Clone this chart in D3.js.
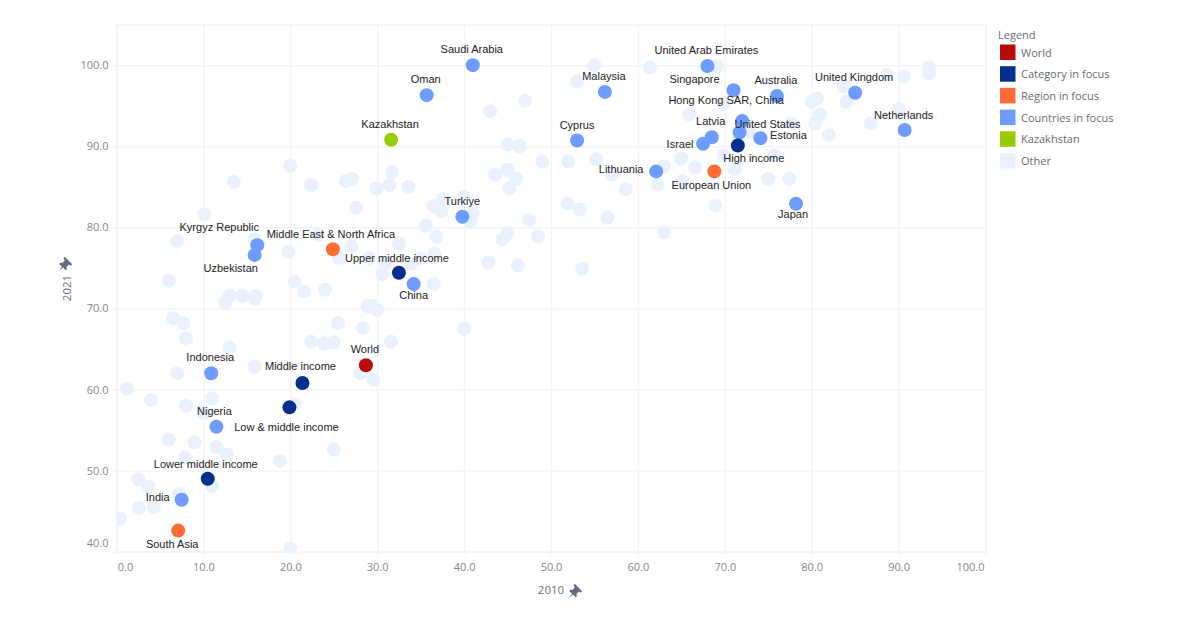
<!DOCTYPE html>
<html>
<head>
<meta charset="utf-8">
<script src="https://cdn.jsdelivr.net/npm/d3@7/dist/d3.min.js"></script>
<style>
html,body{margin:0;padding:0;background:#fff;}
svg{display:block;}
</style>
</head>
<body>
<div id="chart"></div>
<script>
const xTicks = [0,10,20,30,40,50,60,70,80,90,100];
const yTicks = [40,50,60,70,80,90,100];
const xTitle = "2010";
const yTitle = "2021";
const legendTitle = "Legend";
const groupNames = ["World","Category in focus","Region in focus","Countries in focus","Kazakhstan","Other"];
const groupColors = ["#B80C09","#002F8F","#FF6B35","#6E9BFF","#97CC04","#EAF1FE"];

const otherX = [20.0,13.5,22.4,26.4,27.1,29.9,31.4,31.7,33.6,36.5,37.6,37.4,27.6,35.6,36.8,32.5,10.1,7.0,15.9,19.8,23.2,27.0,25.6,29.0,31.0,34.0,35.0,36.6,30.6,36.5,6.0,20.5,21.6,24.0,13.0,14.5,16.0,12.5,15.9,28.9,29.4,30.0,6.5,7.7,8.0,25.5,28.3,31.6,22.4,23.9,25.0,13.0,15.9,7.0,28.1,29.6,1.2,4.0,8.0,11.0,20.5,10.0,6.0,9.0,11.5,25.0,12.7,7.9,18.8,11.0,2.5,3.7,7.2,2.6,4.3,0.4,20.0,2.9,55.0,53.0,61.4,69.1,47.0,43.0,45.0,46.4,49.0,52.0,55.2,45.0,43.6,46.0,45.2,57.0,58.6,62.3,63.0,65.0,66.6,65.1,69.9,71.1,65.9,69.9,51.9,53.3,47.5,56.5,68.9,63.0,45.0,44.4,48.5,39.9,41.0,40.7,42.8,46.2,53.6,40.0,88.7,90.6,93.5,93.5,83.7,80.0,80.6,84.0,81.0,80.4,82.0,86.8,90.0,75.7,75.0,77.4,72.9,77.6];
const otherY = [87.6,85.6,85.2,85.7,86.0,84.8,85.2,86.8,85.0,82.6,83.5,82.0,82.4,80.2,78.9,78.0,81.6,78.3,78.5,77.0,79.1,77.7,76.2,76.2,75.6,75.5,76.2,76.7,74.2,73.0,73.4,73.3,72.1,72.3,71.6,71.6,71.5,70.7,71.2,70.3,70.3,69.8,68.8,68.2,66.3,68.2,67.6,65.9,65.9,65.7,65.8,65.2,62.8,62.0,62.0,61.2,60.1,58.7,58.0,58.9,58.2,57.1,53.8,53.5,52.9,52.6,52.0,51.6,51.2,48.1,48.9,48.0,47.1,45.4,45.5,44.1,40.4,38.9,100.0,98.0,99.7,99.9,95.6,94.3,90.2,90.0,88.1,88.1,88.4,87.1,86.5,86.0,84.8,86.5,84.7,85.3,87.5,88.5,87.4,85.7,88.9,87.2,93.9,95.2,82.9,82.2,80.9,81.2,82.7,79.4,79.3,78.5,78.9,83.8,81.7,80.7,75.7,75.3,74.9,67.5,98.8,98.6,99.7,99.0,97.4,95.5,95.9,95.5,93.9,92.8,91.4,92.8,94.6,88.9,86.0,86.0,91.8,92.8];

const focusNames = ["Saudi Arabia","Oman","Kyrgyz Republic","Uzbekistan","China","Turkiye","Cyprus","Malaysia","United Arab Emirates","Singapore","Latvia","Israel","Lithuania","Hong Kong SAR, China","United States","Estonia","Australia","United Kingdom","Netherlands","Japan","Indonesia","Nigeria","India"];
const focusX = [41.0,35.7,16.2,15.9,34.2,39.8,53.0,56.2,68.0,71.0,68.5,67.5,62.1,72.0,71.7,74.1,76.0,85.0,90.7,78.2,10.9,11.5,7.5];
const focusY = [100.0,96.3,77.8,76.6,73.0,81.3,90.7,96.7,99.9,96.9,91.1,90.3,86.9,93.1,91.7,91.0,96.2,96.6,92.0,82.9,62.0,55.4,46.4];
const focusLabelDx = [-1,-1,-38,-24,0,0,0,-1,-1,-39,-1,-23,-35,-16,28,28,-1,-1,-1,-3,-1,-2,-24];
const focusLabelDy = [-16,-16,-18,13,11,-16,-16,-16,-16,-11,-16,0,-2,-21,-8,-3,-16,-16,-15,10,-16,-16,-3];

const categoryNames = ["High income","Upper middle income","Middle income","Low & middle income","Lower middle income"];
const categoryX = [71.5,32.5,21.4,19.9,10.5];
const categoryY = [90.1,74.4,60.8,57.8,49.0];
const categoryLabelDx = [16,-2,-2,-3,-2];
const categoryLabelDy = [13,-15,-17,20,-15];

const regionNames = ["Middle East & North Africa","European Union","South Asia"];
const regionX = [24.9,68.8,7.1];
const regionY = [77.3,86.9,42.6];
const regionLabelDx = [-2,-3,-6];
const regionLabelDy = [-15,14,13];

const worldNames = ["World"];
const worldX = [28.7];
const worldY = [63.0];
const worldLabelDx = [-1];
const worldLabelDy = [-16];

const kazNames = ["Kazakhstan"];
const kazX = [31.6];
const kazY = [90.8];
const kazLabelDx = [-1];
const kazLabelDy = [-16];

const W = 1200, H = 630;
const svg = d3.select("#chart").append("svg").attr("width",W).attr("height",H);
const x = d3.scaleLinear().domain([0,100]).range([116.5,985.5]);
const y = d3.scaleLinear().domain([40,105]).range([551.7,24.6]);
const tickFont = "'Open Sans', sans-serif";
const labelFont = "'Liberation Sans', Arial, sans-serif";

svg.append("defs").append("clipPath").attr("id","plot").append("rect")
  .attr("x",x(0)).attr("y",y(105)).attr("width",x(100)-x(0)).attr("height",y(40)-y(105));

// grid
const gridColor = "#F3F4F6";
const tickColor = "#878787";
const gx = svg.append("g").attr("transform",`translate(0,${y(40)})`)
  .call(d3.axisBottom(x).tickValues(xTicks).tickSize(-(y(40)-y(105))).tickFormat(d=>d.toFixed(1)).tickPadding(12));
gx.select(".domain").attr("stroke",gridColor).attr("stroke-width",1.5);
gx.selectAll(".tick line").attr("stroke",gridColor).attr("stroke-width",1.5);
gx.selectAll(".tick text").attr("font-family",tickFont).attr("font-size",11).attr("fill",tickColor)
  .attr("dx",d=>d===0?8.5:(d===100?-15.5:0));
gx.selectAll(".tick").append("line").attr("y1",0).attr("y2",4).attr("stroke",gridColor).attr("stroke-width",1.5);

const gy = svg.append("g").attr("transform",`translate(${x(0)},0)`)
  .call(d3.axisLeft(y).tickValues(yTicks).tickSize(-(x(100)-x(0))).tickFormat(d=>d.toFixed(1)).tickPadding(8));
gy.select(".domain").attr("stroke",gridColor).attr("stroke-width",1.5);
gy.selectAll(".tick line").attr("stroke",gridColor).attr("stroke-width",1.5);
gy.selectAll(".tick text").attr("font-family",tickFont).attr("font-size",11).attr("fill",tickColor)
  .attr("dy",d=>d===40?"-0.45em":"0.32em");
gy.selectAll(".tick").append("line").attr("x1",0).attr("x2",-4).attr("stroke",gridColor).attr("stroke-width",1.5);

// points
const plot = svg.append("g").attr("clip-path","url(#plot)");
plot.selectAll("circle.other").data(d3.range(otherX.length)).join("circle")
  .attr("class","other")
  .attr("cx",i=>x(otherX[i])).attr("cy",i=>y(otherY[i])).attr("r",7)
  .attr("fill",groupColors[5]);

const groups = [
  {names:focusNames,xs:focusX,ys:focusY,dx:focusLabelDx,dy:focusLabelDy,color:groupColors[3]},
  {names:categoryNames,xs:categoryX,ys:categoryY,dx:categoryLabelDx,dy:categoryLabelDy,color:groupColors[1]},
  {names:regionNames,xs:regionX,ys:regionY,dx:regionLabelDx,dy:regionLabelDy,color:groupColors[2]},
  {names:kazNames,xs:kazX,ys:kazY,dx:kazLabelDx,dy:kazLabelDy,color:groupColors[4]},
  {names:worldNames,xs:worldX,ys:worldY,dx:worldLabelDx,dy:worldLabelDy,color:groupColors[0]}
];
groups.forEach(g=>{
  plot.selectAll(null).data(g.names).join("circle")
    .attr("cx",(d,i)=>x(g.xs[i])).attr("cy",(d,i)=>y(g.ys[i])).attr("r",7)
    .attr("fill",g.color);
});
groups.forEach(g=>{
  svg.selectAll(null).data(g.names).join("text")
    .attr("x",(d,i)=>x(g.xs[i])+g.dx[i]).attr("y",(d,i)=>y(g.ys[i])+g.dy[i]+4)
    .attr("text-anchor","middle")
    .attr("font-family",labelFont).attr("font-size",11).attr("fill","#222")
    .text(d=>d);
});

// axis titles and pins
const pinPath = "M-1.5,-7 L7,1.5 L5.5,3 L3.6,1.6 L0.6,4.4 L0.9,7 L-0.4,8.2 L-3.2,5 L-7.5,8.5 L-4.4,4.2 L-7.8,1 L-6.5,-0.2 L-4,0 L-1.3,-3.2 L-2.9,-5.5 Z";
svg.append("text").attr("x",551).attr("y",594).attr("text-anchor","middle")
  .attr("font-family",tickFont).attr("font-size",11.5).attr("fill","#6B7280").text(xTitle);
svg.append("path").attr("d",pinPath).attr("transform","translate(576,590) scale(0.88)").attr("fill","#5F6B7E");
svg.append("text").attr("transform","translate(71,288) rotate(-90)").attr("text-anchor","middle")
  .attr("font-family",tickFont).attr("font-size",11.5).attr("fill","#6B7280").text(yTitle);
svg.append("path").attr("d",pinPath).attr("transform","translate(66,263) scale(0.88)").attr("fill","#5F6B7E");

// legend
svg.append("text").attr("x",998).attr("y",39)
  .attr("font-family",tickFont).attr("font-size",11).attr("fill","#666B70").text(legendTitle);
const leg = svg.selectAll("g.leg").data(groupNames).join("g").attr("class","leg")
  .attr("transform",(d,i)=>`translate(1000,${44.5+i*21.7})`);
leg.append("rect").attr("width",15.5).attr("height",15.5).attr("fill",(d,i)=>groupColors[i]);
leg.append("text").attr("x",21).attr("y",12)
  .attr("font-family",tickFont).attr("font-size",11).attr("fill","#666B70").text(d=>d);
</script>
</body>
</html>
